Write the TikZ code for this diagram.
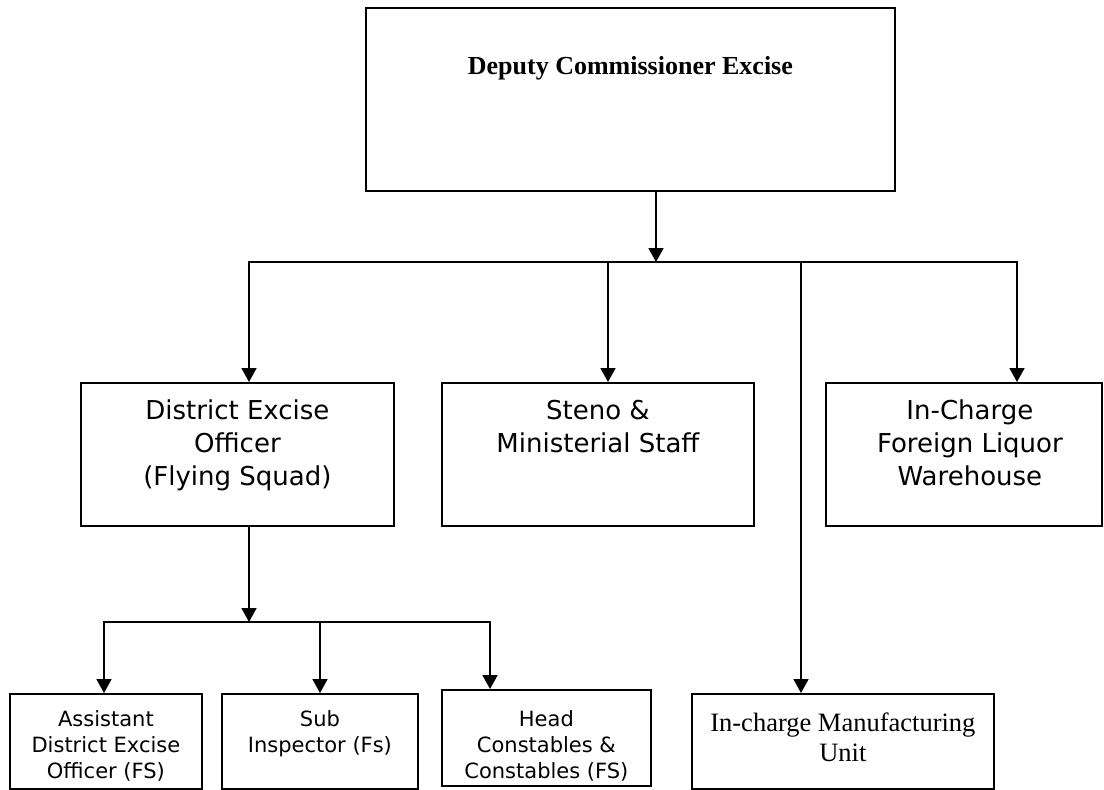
\documentclass[tikz,border=0pt]{standalone}
\usepackage{fontspec}
\setmainfont{Liberation Serif}
\newfontfamily\verdana{DejaVu Sans}
\usetikzlibrary{positioning, arrows.meta}

\begin{document}
\begin{tikzpicture}[x=1pt, y=-1pt,
    box/.style={draw, line width=1.8pt, inner sep=0pt, anchor=north west},
    bigtxt/.style={align=center, inner sep=0pt, font=\verdana\fontsize{26}{33}\selectfont},
    smalltxt/.style={align=center, inner sep=0pt, font=\verdana\fontsize{21}{26}\selectfont},
    serif/.style={align=center, inner sep=0pt, font=\fontsize{26.5}{30}\selectfont},
    link/.style={line width=1.8pt, line cap=rect},
    arr/.style={-{Triangle[length=14pt, width=15pt]}, line width=1.8pt}]
  \useasboundingbox (0,0) rectangle (1104,790);

  % boxes
  \node[box, minimum width=529pt, minimum height=183pt] (dce) at (365,7) {};
  \node[box, minimum width=313pt, minimum height=143pt] (deo) at (80,382) {};
  \node[box, minimum width=312pt, minimum height=143pt] (steno) at (441,382) {};
  \node[box, minimum width=276pt, minimum height=143pt] (ic) at (825,382) {};
  \node[box, minimum width=192pt, minimum height=95pt] (asst) at (9,693) {};
  \node[box, minimum width=196pt, minimum height=95pt] (sub) at (221,693) {};
  \node[box, minimum width=209pt, minimum height=96pt] (head) at (441,689) {};
  \node[box, minimum width=302pt, minimum height=95pt] (mfg) at (691,693) {};

  % texts
  \node[inner sep=0pt, font=\bfseries\fontsize{26}{30}\selectfont, below=49pt of dce.north] (dcetxt) {Deputy Commissioner Excise};
  \node[bigtxt, below=18pt of deo.north] (deotxt) {District Excise\\Officer\\(Flying Squad)};
  \node[bigtxt, below=18pt of steno.north] (stenotxt) {Steno \&\\Ministerial Staff};
  \node[bigtxt, below=18pt of ic.north, xshift=6pt] (ictxt) {In-Charge\\Foreign Liquor\\Warehouse};
  \node[smalltxt, below=17pt of asst.north] (assttxt) {Assistant\\District Excise\\Officer (FS)};
  \node[smalltxt, below=17pt of sub.north] (subtxt) {Sub\\Inspector (Fs)};
  \node[smalltxt, below=21pt of head.north] (headtxt) {Head\\Constables \&\\Constables (FS)};
  \node[serif, below=20pt of mfg.north] (mfgtxt) {In-charge Manufacturing\\Unit};

  % connectors
  \coordinate (ctop) at (656,262);
  \coordinate (b1) at (249,262);
  \coordinate (b2) at (608,262);
  \coordinate (b3) at (801,262);
  \coordinate (b4) at (1017,262);
  \draw[arr] (dce.south -| ctop) -- (ctop);
  \draw[link] (b1) -- (b4);
  \draw[arr] (b1) -- (b1 |- deo.north);
  \draw[arr] (b2) -- (b2 |- steno.north);
  \draw[arr] (b3) -- (b3 |- mfg.north);
  \draw[arr] (b4) -- (b4 |- ic.north);

  \coordinate (ctwo) at (249,622);
  \coordinate (c1) at (104,622);
  \coordinate (c2) at (320,622);
  \coordinate (c3) at (490,622);
  \draw[arr] (deo.south -| ctwo) -- (ctwo);
  \draw[link] (c1) -- (c3);
  \draw[arr] (c1) -- (c1 |- asst.north);
  \draw[arr] (c2) -- (c2 |- sub.north);
  \draw[arr] (c3) -- (c3 |- head.north);
\end{tikzpicture}
\end{document}
